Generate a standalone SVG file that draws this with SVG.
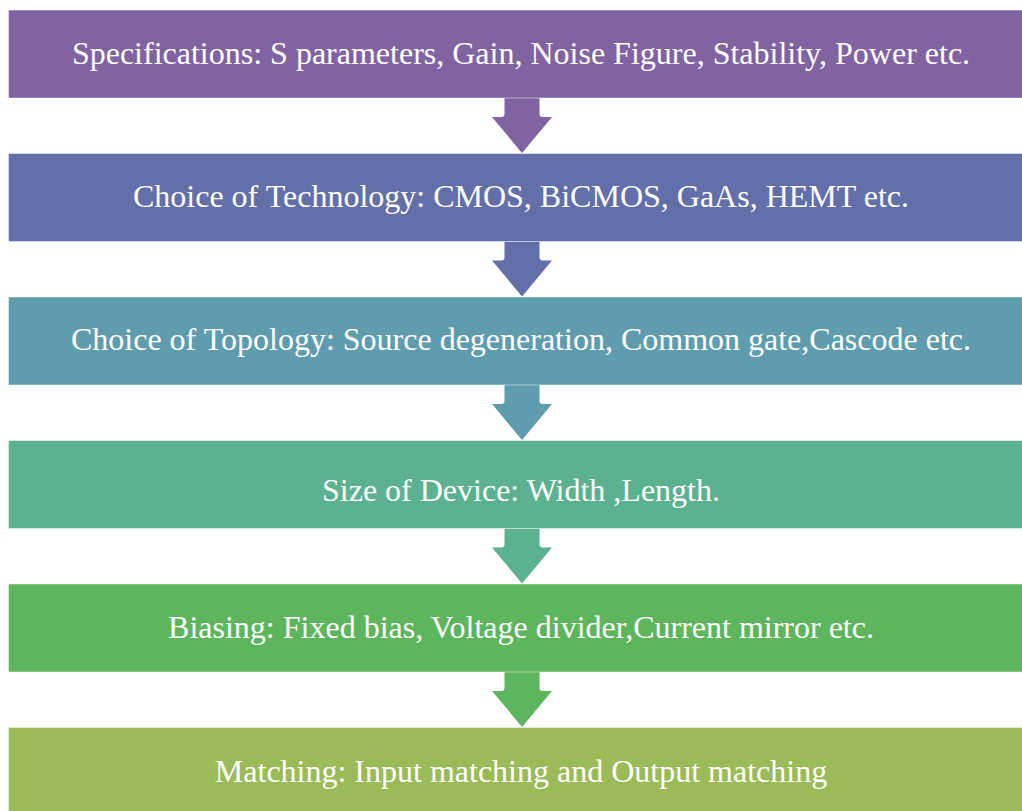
<svg xmlns="http://www.w3.org/2000/svg" width="1022" height="811" viewBox="0 0 1022 811">
  <style>
    .box { stroke: #ffffff; stroke-opacity: 0.45; stroke-width: 1; }
    .lbl { font-family: "Liberation Serif", "Times New Roman", serif; font-size: 32px; fill: #ffffff; text-anchor: middle; }
  </style>
  <defs>
    <!-- down arrow: stem with rounded shoulders, then triangular head; origin at stem top centre -->
    <path id="down" d="M -17.5 0 L 17.5 0 L 17.5 16 Q 17.5 19 20.5 19 L 30 19 L 0 55 L -30 19 L -20.5 19 Q -17.5 19 -17.5 16 Z"/>
  </defs>
  <rect width="1022" height="811" fill="#ffffff"/>

  <g id="connectors">
    <use href="#down" x="522" y="98" fill="#8064A2"/>
    <use href="#down" x="522" y="241.5" fill="#626FA9"/>
    <use href="#down" x="522" y="385" fill="#5F9CAE"/>
    <use href="#down" x="522" y="528.5" fill="#5CB190"/>
    <use href="#down" x="522" y="672" fill="#5DB55D"/>
  </g>

  <g id="spec">
    <rect class="box" x="8.5" y="10" width="1014" height="88" fill="#8064A2"/>
    <text class="lbl" x="521" y="64">Specifications: S parameters, Gain, Noise Figure, Stability, Power etc.</text>
  </g>
  <g id="technology">
    <rect class="box" x="8.5" y="153.5" width="1014" height="88" fill="#626FA9"/>
    <text class="lbl" x="521" y="207">Choice of Technology: CMOS, BiCMOS, GaAs, HEMT etc.</text>
  </g>
  <g id="topology">
    <rect class="box" x="8.5" y="297" width="1014" height="88" fill="#5F9CAE"/>
    <text class="lbl" x="521" y="350">Choice of Topology: Source degeneration, Common gate,Cascode etc.</text>
  </g>
  <g id="size">
    <rect class="box" x="8.5" y="440.5" width="1014" height="88" fill="#5CB190"/>
    <text class="lbl" x="521" y="501">Size of Device: Width ,Length.</text>
  </g>
  <g id="biasing">
    <rect class="box" x="8.5" y="584" width="1014" height="88" fill="#5DB55D"/>
    <text class="lbl" x="521" y="638">Biasing: Fixed bias, Voltage divider,Current mirror etc.</text>
  </g>
  <g id="matching">
    <rect class="box" x="8.5" y="727.5" width="1014" height="88" fill="#9BBB59"/>
    <text class="lbl" x="521" y="782">Matching: Input matching and Output matching</text>
  </g>
</svg>
